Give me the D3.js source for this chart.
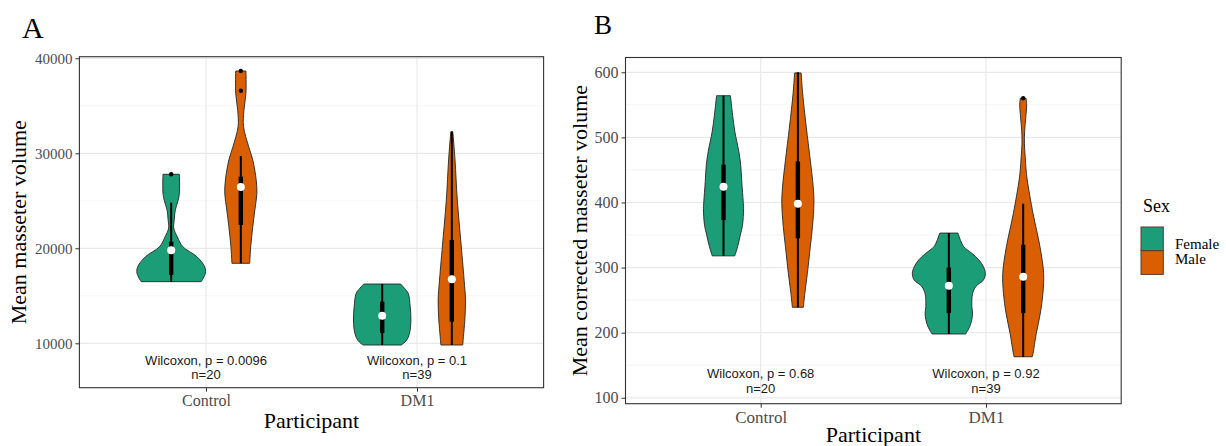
<!DOCTYPE html>
<html>
<head>
<meta charset="utf-8">
<script src="https://cdn.jsdelivr.net/npm/d3@7"></script>
<style>
  body { margin: 0; background: #fff; }
  svg { display: block; }
  .tick text { font-family: 'Liberation Serif', serif; fill: #4d4d4d; }
  .tick line { stroke: #333; }
</style>
</head>
<body>
<div id="chart"></div>
<script>
const categories = ['Control', 'DM1'];
const sexes = ['Female', 'Male'];
const sexColors = ['#1b9e77', '#d95f02'];

// Panel A: mean masseter volume
const ticksA = [10000, 20000, 30000, 40000];
const minorA = [15000, 25000, 35000];
const pLabelsA = ['Wilcoxon, p = 0.0096', 'Wilcoxon, p = 0.1'];
const nLabels = ['n=20', 'n=39'];

// violin outlines: [value, relative density]
const densA_ControlFemale = [[16490, 0.88], [17370, 1.0], [18060, 0.98], [19120, 0.75], [20170, 0.34], [21200, 0.18], [22130, 0.074], [23000, 0.09], [24030, 0.12], [25000, 0.2], [25790, 0.24], [27790, 0.24]];
const densA_ControlMale = [[18420, 0.26], [20170, 0.29], [22280, 0.35], [24030, 0.41], [25790, 0.47], [27190, 0.45], [29300, 0.35], [30700, 0.23], [32800, 0.08], [34500, 0.09], [36320, 0.15], [38660, 0.15]];
const densA_DM1Female = [[9820, 0.56], [10300, 0.71], [11050, 0.8], [12450, 0.84], [13850, 0.82], [15260, 0.76], [15800, 0.65], [16240, 0.54]];
const densA_DM1Male = [[9820, 0.32], [10700, 0.34], [12450, 0.38], [14560, 0.4], [16660, 0.36], [20870, 0.26], [25080, 0.16], [29300, 0.094], [32270, 0.03]];

const statsA = [
  { category: 'Control', sex: 'Female', lo: 16490, q1: 17200, med: 19790, q3: 20700, hi: 24800, out: [27800] },
  { category: 'Control', sex: 'Male', lo: 18420, q1: 22450, med: 26450, q3: 27540, hi: 29720, out: [36590, 38660] },
  { category: 'DM1', sex: 'Female', lo: 9820, q1: 11080, med: 12900, q3: 14380, hi: 16240, out: [] },
  { category: 'DM1', sex: 'Male', lo: 9820, q1: 12280, med: 16740, q3: 20870, hi: 32270, out: [] },
];

// Panel B: mean corrected masseter volume
const ticksB = [100, 200, 300, 400, 500, 600];
const minorB = [150, 250, 350, 450, 550];
const pLabelsB = ['Wilcoxon, p = 0.68', 'Wilcoxon, p = 0.92'];

const densB_ControlFemale = [[318, 0.31], [335, 0.4], [350, 0.46], [365, 0.52], [391, 0.55], [401, 0.54], [432, 0.5], [458, 0.47], [478, 0.42], [509, 0.31], [534, 0.25], [564, 0.19]];
const densB_ControlMale = [[239, 0.15], [260, 0.19], [291, 0.26], [332, 0.34], [363, 0.4], [399, 0.44], [424, 0.42], [465, 0.34], [516, 0.23], [568, 0.13], [599, 0.09]];
const densB_DM1Female = [[198, 0.46], [209, 0.57], [220, 0.63], [230, 0.65], [240, 0.63], [250, 0.63], [260, 0.65], [271, 0.74], [281, 0.95], [291, 1.0], [301, 0.95], [312, 0.82], [322, 0.63], [332, 0.41], [342, 0.32], [353, 0.25]];
const densB_DM1Male = [[163, 0.25], [168, 0.27], [199, 0.36], [230, 0.47], [260, 0.54], [291, 0.56], [332, 0.46], [383, 0.27], [435, 0.11], [450, 0.08], [470, 0.055], [490, 0.033], [510, 0.04], [530, 0.07], [550, 0.095], [560, 0.08]];

const statsB = [
  { category: 'Control', sex: 'Female', lo: 318, q1: 373, med: 424, q3: 458, hi: 564, out: [] },
  { category: 'Control', sex: 'Male', lo: 239, q1: 345, med: 398, q3: 463, hi: 600, out: [] },
  { category: 'DM1', sex: 'Female', lo: 198, q1: 230, med: 272, q3: 300, hi: 353, out: [] },
  { category: 'DM1', sex: 'Male', lo: 163, q1: 230, med: 286, q3: 335, hi: 398, out: [560] },
];

const width = 1226;
const height = 446;

const svg = d3
  .select('#chart')
  .append('svg')
  .attr('width', width)
  .attr('height', height);

const colorScale = d3.scaleOrdinal().domain(sexes).range(sexColors);

function ViolinPanel({
  left, right, top, bottom, yDomain, yTicks, yMinor,
  densities, stats, pLabels, labelValue, tickSize,
  yTitle, yTitleX, xTitleY, letter, letterX, letterY, letterSize,
}) {
  const g = svg.append('g');

  const xScale = d3
    .scalePoint()
    .domain(categories)
    .range([left, right])
    .padding(0.6);

  const step = xScale.step();
  const dodge = d3
    .scalePoint()
    .domain(sexes)
    .range([-0.165 * step, 0.165 * step]);

  const yScale = d3.scaleLinear().domain(yDomain).range([bottom, top]);
  const wScale = d3.scaleLinear().domain([0, 1]).range([0, 0.162 * step]);

  // grid
  g.append('g')
    .selectAll('line')
    .data(yMinor)
    .join('line')
    .attr('x1', left)
    .attr('x2', right)
    .attr('y1', (d) => yScale(d))
    .attr('y2', (d) => yScale(d))
    .attr('stroke', '#f2f2f2')
    .attr('stroke-width', 0.8);

  g.append('g')
    .selectAll('line')
    .data(yTicks)
    .join('line')
    .attr('x1', left)
    .attr('x2', right)
    .attr('y1', (d) => yScale(d))
    .attr('y2', (d) => yScale(d))
    .attr('stroke', '#e9e9e9')
    .attr('stroke-width', 1.2);

  g.append('g')
    .selectAll('line')
    .data(categories)
    .join('line')
    .attr('x1', (d) => xScale(d))
    .attr('x2', (d) => xScale(d))
    .attr('y1', top)
    .attr('y2', bottom)
    .attr('stroke', '#e9e9e9')
    .attr('stroke-width', 1.2);

  // violins
  const violins = g
    .append('g')
    .selectAll('g')
    .data(stats)
    .join('g')
    .attr('transform', (d) => `translate(${xScale(d.category) + dodge(d.sex)},0)`);

  const area = d3
    .area()
    .x0((d) => -wScale(d[1]))
    .x1((d) => wScale(d[1]))
    .y((d) => yScale(d[0]))
    .curve(d3.curveCatmullRom.alpha(0.5));

  violins
    .append('path')
    .attr('d', (d, i) => area(densities[i]))
    .attr('fill', (d) => colorScale(d.sex))
    .attr('stroke', '#262626')
    .attr('stroke-width', 0.9);

  violins
    .append('line')
    .attr('y1', (d) => yScale(d.lo))
    .attr('y2', (d) => yScale(d.hi))
    .attr('stroke', '#000')
    .attr('stroke-width', 2);

  violins
    .append('rect')
    .attr('x', -2.2)
    .attr('width', 4.4)
    .attr('y', (d) => yScale(d.q3))
    .attr('height', (d) => yScale(d.q1) - yScale(d.q3))
    .attr('fill', '#000');

  violins
    .selectAll('.outlier')
    .data((d) => d.out)
    .join('circle')
    .attr('class', 'outlier')
    .attr('cy', (d) => yScale(d))
    .attr('r', 2.2)
    .attr('fill', '#000');

  violins
    .append('circle')
    .attr('cy', (d) => yScale(d.med))
    .attr('r', 4)
    .attr('fill', '#fff');

  // test labels
  const labels = g
    .append('g')
    .selectAll('text')
    .data(categories)
    .join('text')
    .attr('x', (d) => xScale(d))
    .attr('y', yScale(labelValue))
    .attr('text-anchor', 'middle')
    .attr('font-family', "'Liberation Sans', Arial, sans-serif")
    .attr('font-size', 13)
    .attr('fill', '#1a1a1a');

  labels
    .append('tspan')
    .attr('x', (d) => xScale(d))
    .attr('dy', '-0.15em')
    .text((d, i) => pLabels[i]);

  labels
    .append('tspan')
    .attr('x', (d) => xScale(d))
    .attr('dy', '1.15em')
    .text((d, i) => nLabels[i]);

  // border
  g.append('rect')
    .attr('x', left)
    .attr('y', top)
    .attr('width', right - left)
    .attr('height', bottom - top)
    .attr('fill', 'none')
    .attr('stroke', '#333')
    .attr('stroke-width', 1.1);

  // axes
  g.append('g')
    .attr('transform', `translate(${left},0)`)
    .call(
      d3
        .axisLeft(yScale)
        .tickValues(yTicks)
        .tickFormat(d3.format('d'))
        .tickSize(4)
        .tickPadding(3)
    )
    .call((a) => a.select('.domain').remove())
    .call((a) => a.selectAll('text').attr('font-size', tickSize));

  g.append('g')
    .attr('transform', `translate(0,${bottom})`)
    .call(d3.axisBottom(xScale).tickSize(4).tickPadding(3))
    .call((a) => a.select('.domain').remove())
    .call((a) => a.selectAll('text').attr('font-size', tickSize + 1));

  // titles
  g.append('text')
    .attr('transform', `translate(${yTitleX},${(top + bottom) / 2}) rotate(-90)`)
    .attr('text-anchor', 'middle')
    .attr('dy', '0.35em')
    .attr('font-family', "'Liberation Serif', serif")
    .attr('font-size', 22)
    .text(yTitle);

  g.append('text')
    .attr('x', (left + right) / 2)
    .attr('y', xTitleY)
    .attr('text-anchor', 'middle')
    .attr('font-family', "'Liberation Serif', serif")
    .attr('font-size', 22)
    .text('Participant');

  g.append('text')
    .attr('x', letterX)
    .attr('y', letterY)
    .attr('font-family', "'Liberation Serif', serif")
    .attr('font-size', letterSize)
    .text(letter);
}

ViolinPanel({
  left: 79.4,
  right: 543.6,
  top: 56.7,
  bottom: 387.7,
  yDomain: [5326, 40168],
  yTicks: ticksA,
  yMinor: minorA,
  densities: [densA_ControlFemale, densA_ControlMale, densA_DM1Female, densA_DM1Male],
  stats: statsA,
  pLabels: pLabelsA,
  labelValue: 7560,
  tickSize: 15,
  yTitle: 'Mean masseter volume',
  yTitleX: 18.6,
  xTitleY: 428,
  letter: 'A',
  letterX: 22,
  letterY: 38,
  letterSize: 30,
});

ViolinPanel({
  left: 625.5,
  right: 1121.2,
  top: 57.5,
  bottom: 403.7,
  yDomain: [90.9, 622.7],
  yTicks: ticksB,
  yMinor: minorB,
  densities: [densB_ControlFemale, densB_ControlMale, densB_DM1Female, densB_DM1Male],
  stats: statsB,
  pLabels: pLabelsB,
  labelValue: 127.4,
  tickSize: 16,
  yTitle: 'Mean corrected masseter volume',
  yTitleX: 579,
  xTitleY: 442,
  letter: 'B',
  letterX: 594,
  letterY: 34,
  letterSize: 27,
});

// legend
const legend = svg.append('g').attr('transform', 'translate(1141,0)');

legend
  .append('text')
  .attr('x', 2)
  .attr('y', 212)
  .attr('font-family', "'Liberation Serif', serif")
  .attr('font-size', 18)
  .text('Sex');

legend
  .selectAll('rect')
  .data(sexes)
  .join('rect')
  .attr('x', 0)
  .attr('y', (d, i) => 227 + i * 23.7)
  .attr('width', 22.3)
  .attr('height', 23.7)
  .attr('fill', (d) => colorScale(d))
  .attr('stroke', '#5a3a2a')
  .attr('stroke-width', 1);

legend
  .selectAll('.label')
  .data(sexes)
  .join('text')
  .attr('class', 'label')
  .attr('x', 34)
  .attr('y', (d, i) => 243.3 + i * 15)
  .attr('dy', '0.35em')
  .attr('font-family', "'Liberation Serif', serif")
  .attr('font-size', 15)
  .text((d) => d);
</script>
</body>
</html>
